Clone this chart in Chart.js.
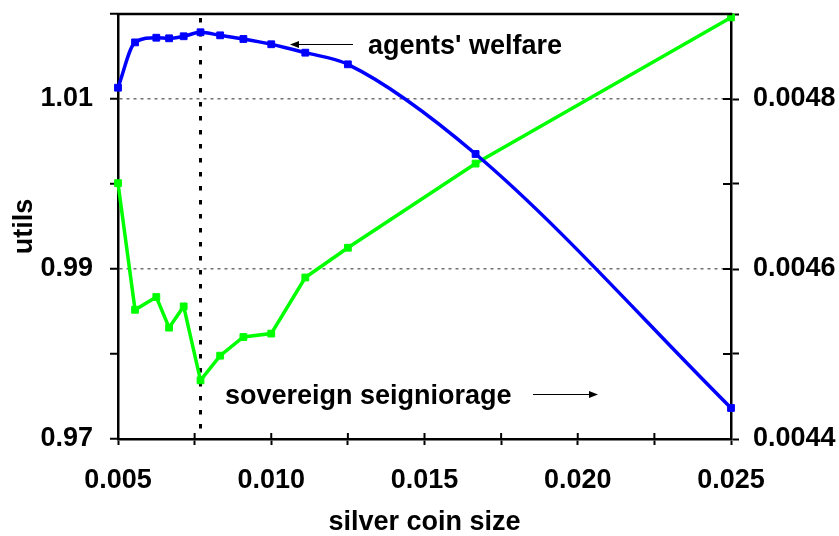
<!DOCTYPE html>
<html lang="en">
<head>
<meta charset="UTF-8">
<title>Welfare and seigniorage by silver coin size</title>
<style>
  html, body { margin: 0; padding: 0; background: #fff; }
  #wrap { width: 839px; height: 536px; }
</style>
</head>
<body>
<div id="wrap"><canvas id="myChart"></canvas></div>

<script src="https://cdn.jsdelivr.net/npm/chart.js"></script>
<script>
// silver coin size (x) for every plotted point
const coinSize = [0.005, 0.005556, 0.00625, 0.006667, 0.007143, 0.007692, 0.008333,
                  0.009091, 0.01, 0.011111, 0.0125, 0.016667, 0.025];
// agents' welfare, left axis (utils)
const welfare = [1.01133, 1.01666, 1.01721, 1.01714, 1.01738, 1.01785, 1.01749,
                 1.01706, 1.01644, 1.01545, 1.01408, 1.00353, 0.97365];
// sovereign seigniorage, right axis
const seigniorage = [0.004701, 0.004552, 0.004567, 0.004531, 0.004556, 0.004469, 0.004498,
                     0.004520, 0.004524, 0.004590, 0.004625, 0.004724, 0.004896];
// coin size marked by the dotted vertical line
const bestSize = 0.007692;

const xTickLabels = ['0.005', '0.010', '0.015', '0.020', '0.025'];
const leftTickLabels = ['0.97', '0.99', '1.01'];
const rightTickLabels = ['0.0044', '0.0046', '0.0048'];

const FONT = "'Liberation Sans', Arial, Helvetica, sans-serif";
Chart.defaults.font.family = FONT;
Chart.defaults.font.weight = 'bold';
Chart.defaults.font.size = 27;
Chart.defaults.color = '#000';

function arrow(ctx, x1, y, x2) {
    // thin line with a small filled head at x2
    const dir = x2 > x1 ? 1 : -1;
    ctx.lineWidth = 1;
    ctx.beginPath();
    ctx.moveTo(x1, y);
    ctx.lineTo(x2 - dir * 6, y);
    ctx.stroke();
    ctx.beginPath();
    ctx.moveTo(x2, y);
    ctx.lineTo(x2 - dir * 9, y - 3.5);
    ctx.lineTo(x2 - dir * 9, y + 3.5);
    ctx.closePath();
    ctx.fill();
}

const extras = {
    id: 'extras',
    beforeDatasetsDraw(chart) {
        const {ctx, chartArea: a, scales} = chart;
        const px = scales.x.getPixelForValue(bestSize);
        ctx.save();
        ctx.strokeStyle = '#000';
        ctx.lineWidth = 3;
        ctx.setLineDash([4.5, 9.5]);
        ctx.beginPath();
        ctx.moveTo(px, a.top + 4);
        ctx.lineTo(px, a.bottom);
        ctx.stroke();
        ctx.restore();
    },
    afterDraw(chart) {
        const {ctx, chartArea: a, scales} = chart;
        ctx.save();
        ctx.strokeStyle = '#000';
        ctx.fillStyle = '#000';

        // top frame line
        ctx.lineWidth = 2.5;
        ctx.beginPath();
        ctx.moveTo(a.left - 1.25, a.top);
        ctx.lineTo(a.right + 1.25, a.top);
        ctx.stroke();

        // tick marks crossing into the plot
        ctx.lineWidth = 2;
        scales.x.ticks.forEach(t => {
            const p = scales.x.getPixelForValue(t.value);
            ctx.beginPath(); ctx.moveTo(p, a.bottom); ctx.lineTo(p, a.bottom - 6); ctx.stroke();
        });
        scales.y2.ticks.forEach(t => {
            const p = scales.y2.getPixelForValue(t.value);
            ctx.beginPath(); ctx.moveTo(a.right, p); ctx.lineTo(a.right - 8, p); ctx.stroke();
        });

        // labels on the curves
        ctx.font = 'bold 27px ' + FONT;
        ctx.textBaseline = 'alphabetic';
        ctx.textAlign = 'left';
        ctx.fillText("agents' welfare", 368, 54);
        ctx.fillText('sovereign seigniorage', 225, 404);
        arrow(ctx, 353, 44.5, 290);
        arrow(ctx, 533, 394.5, 598);
        ctx.restore();
    }
};

const ctx = document.getElementById('myChart');

new Chart(ctx, {
    type: 'line',
    data: {
        datasets: [{
            label: "agents' welfare",
            data: coinSize.map((x, i) => ({x: x, y: welfare[i]})),
            yAxisID: 'y',
            borderColor: '#0000ff',
            backgroundColor: '#0000ff',
            borderWidth: 3.5,
            pointStyle: 'rect',
            pointRadius: 4.8,
            pointBorderWidth: 1,
            cubicInterpolationMode: 'monotone',
            clip: false
        }, {
            label: 'sovereign seigniorage',
            data: coinSize.map((x, i) => ({x: x, y: seigniorage[i]})),
            yAxisID: 'y2',
            borderColor: '#00ff00',
            backgroundColor: '#00ff00',
            borderWidth: 3.5,
            pointStyle: 'rect',
            pointRadius: 4.8,
            pointBorderWidth: 1,
            tension: 0,
            clip: false
        }]
    },
    options: {
        responsive: true,
        maintainAspectRatio: false,
        animation: false,
        events: [],
        layout: { padding: { top: 14, left: 0, right: 0, bottom: 0 } },
        plugins: {
            legend: { display: false },
            tooltip: { enabled: false }
        },
        scales: {
            x: {
                type: 'linear',
                min: 0.005,
                max: 0.025,
                afterFit: s => { s.height = 97; s.paddingLeft = 0; s.paddingRight = 0; },
                ticks: {
                    stepSize: 0.0025,
                    padding: 19,
                    maxRotation: 0,
                    autoSkip: false,
                    callback: (v, i) => (i % 2 === 0 ? xTickLabels[i / 2] : '')
                },
                grid: {
                    drawOnChartArea: false,
                    tickLength: 6,
                    tickWidth: 2,
                    tickColor: '#000'
                },
                border: { color: '#000', width: 2.5 },
                title: {
                    display: true,
                    text: 'silver coin size',
                    font: { size: 27, weight: 'bold', lineHeight: 1 },
                    padding: { top: 0, bottom: 0 }
                }
            },
            y: {
                position: 'left',
                min: 0.97,
                max: 1.02,
                afterFit: s => { s.width = 118; s.paddingTop = 0; s.paddingBottom = 0; },
                ticks: {
                    stepSize: 0.01,
                    padding: 17,
                    autoSkip: false,
                    callback: (v, i) => (i % 2 === 0 ? leftTickLabels[i / 2] : '')
                },
                grid: {
                    color: c => (c.index === 2 || c.index === 4 ? '#707070' : 'rgba(0,0,0,0)'),
                    lineWidth: 1.5,
                    tickLength: 8,
                    tickWidth: 2,
                    tickColor: '#000'
                },
                border: { color: '#000', width: 2.5, dash: [3, 4] },
                title: {
                    display: true,
                    text: 'utils',
                    font: { size: 27, weight: 'bold', lineHeight: 1 },
                    padding: { top: 11, bottom: 0 }
                }
            },
            y2: {
                position: 'right',
                min: 0.0044,
                max: 0.0049,
                afterFit: s => { s.width = 108; s.paddingTop = 0; s.paddingBottom = 0; },
                ticks: {
                    stepSize: 0.0001,
                    padding: 14,
                    autoSkip: false,
                    callback: (v, i) => (i % 2 === 0 ? rightTickLabels[i / 2] : '')
                },
                grid: {
                    drawOnChartArea: false,
                    tickLength: 8,
                    tickWidth: 2,
                    tickColor: '#000'
                },
                border: { color: '#000', width: 2.5 }
            }
        }
    },
    plugins: [extras]
});
</script>
</body>
</html>
